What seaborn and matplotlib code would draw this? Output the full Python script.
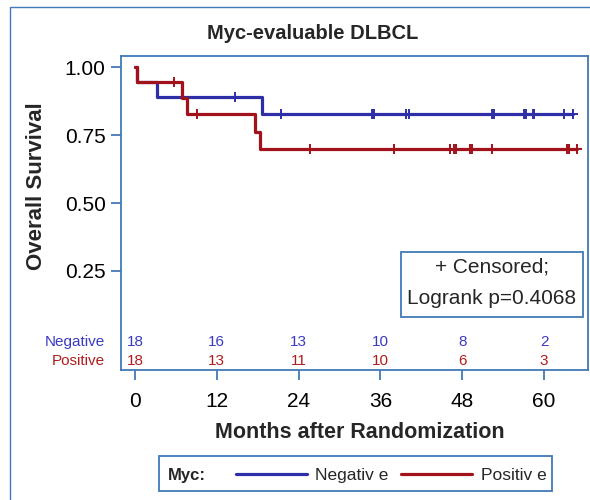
import numpy as np
import pandas as pd
import matplotlib
matplotlib.use("Agg")
import matplotlib.pyplot as plt
import matplotlib.transforms as mtransforms
from matplotlib.patches import Rectangle
from matplotlib.lines import Line2D
import seaborn as sns

# ---------------- data ----------------
groups = ["Negative", "Positive"]
neg_event_times = [0.3, 3.2, 18.6]
neg_censor_times = [14.7, 21.4, 34.8, 35.0, 35.1, 39.8, 40.2, 52.3, 52.7,
                    57.0, 57.3, 58.4, 58.5, 63.0, 64.2]
pos_event_times = [0.3, 6.85, 7.65, 17.65, 18.4]
pos_censor_times = [5.7, 9.05, 25.7, 38.0, 46.2, 46.8, 47.1, 49.1, 49.5,
                    52.3, 63.3, 63.6, 64.8]
risk_times = [0, 12, 24, 36, 48, 60]
neg_at_risk = [18, 16, 13, 10, 8, 2]
pos_at_risk = [18, 13, 11, 10, 6, 3]
x_ticks = [0, 12, 24, 36, 48, 60]
y_ticks = [0.25, 0.50, 0.75, 1.00]
y_tick_labels = ["0.25", "0.50", "0.75", "1.00"]
logrank_p = "0.4068"
title = "Myc-evaluable DLBCL"
legend_labels = ["Negativ e", "Positiv e"]

# ---------------- styling ----------------
sns.set_style("white")
plt.rcParams["font.family"] = ["Liberation Sans", "DejaVu Sans"]

FRAME = "#4279B8"
LINE_COL = {"Negative": "#2E2EA6", "Positive": "#A1121A"}
TEXT_COL = {"Negative": "#3A3AC4", "Positive": "#B01C1C"}


def km(events, censors):
    times = sorted(set(events) | set(censors))
    n = len(events) + len(censors)
    s = 1.0
    rows = [(0.0, 1.0)]
    cens = []
    for t in times:
        d = events.count(t)
        c = censors.count(t)
        if d:
            s *= (n - d) / n
        rows.append((t, s))
        cens += [(t, s)] * c
        n -= d + c
    return rows, cens


curve_rows, cens_rows = [], []
for g, ev, ce in [("Negative", neg_event_times, neg_censor_times),
                  ("Positive", pos_event_times, pos_censor_times)]:
    r, c = km(ev, ce)
    curve_rows += [(g, t, s) for t, s in r]
    cens_rows += [(g, t, s) for t, s in c]
curve = pd.DataFrame(curve_rows, columns=["group", "time", "surv"])
cens = pd.DataFrame(cens_rows, columns=["group", "time", "surv"])

fig = plt.figure(figsize=(5.9, 5.0), dpi=100)
ax = fig.add_axes([121 / 590, 1 - 369.5 / 500, (588 - 121) / 590, (369.5 - 56) / 500])

sns.lineplot(data=curve, x="time", y="surv", hue="group", hue_order=groups,
             palette=LINE_COL, drawstyle="steps-post", estimator=None,
             sort=False, legend=False, linewidth=2.3, ax=ax)
for g in groups:
    sub = cens[cens.group == g]
    ax.plot(sub.time, sub.surv, linestyle="none", marker="+", markersize=7.5,
            markeredgewidth=1.4, color=LINE_COL[g], zorder=3)

ax.set_xlim(-2.05, 66.45)
ax.set_ylim(-0.1127, 1.0416)
ax.set_xticks(x_ticks)
ax.set_xticklabels([str(t) for t in x_ticks])
ax.set_yticks(y_ticks)
ax.set_yticklabels(y_tick_labels)
ax.set_xlabel("")
ax.set_ylabel("")
for sp in ax.spines.values():
    sp.set_color(FRAME)
    sp.set_linewidth(1.3)
ax.tick_params(axis="both", direction="out", length=7, width=1.3,
               color=FRAME, labelcolor="black", labelsize=15,
               bottom=True, left=True)
ax.tick_params(axis="x", pad=9)
ax.tick_params(axis="y", pad=4)

# number-at-risk table inside the axes
trans = mtransforms.blended_transform_factory(ax.transData, ax.transAxes)
for g, vals, yy in [("Negative", neg_at_risk, 0.0877), ("Positive", pos_at_risk, 0.027)]:
    for t, v in zip(risk_times, vals):
        ax.text(t, yy, str(v), transform=trans, ha="center", va="center",
                fontsize=11, color=TEXT_COL[g])
    fig.text(105 / 590, 1 - (369.5 - yy * 313.5) / 500, g, ha="right", va="center",
             fontsize=11, color=TEXT_COL[g])

# censored / logrank box
ax.add_patch(Rectangle((0.5996, 0.1675), 0.9893 - 0.5996, 0.3748 - 0.1675,
                       transform=ax.transAxes, fill=False, edgecolor=FRAME,
                       linewidth=1.3, zorder=4))
ax.text(0.7944, 0.327, "+ Censored;", transform=ax.transAxes, ha="center",
        va="center", fontsize=15)
ax.text(0.7944, 0.228, "Logrank p=" + logrank_p, transform=ax.transAxes,
        ha="center", va="center", fontsize=15)

# titles
fig.text(313 / 590, 1 - 33 / 500, title, ha="center", va="center",
         fontsize=14.5, fontweight="bold")
fig.text(37 / 590, 1 - 186.5 / 500, "Overall Survival", ha="center", va="center",
         rotation=90, fontsize=16, fontweight="bold")
fig.text(360 / 590, 1 - 432 / 500, "Months after Randomization", ha="center",
         va="center", fontsize=15.5, fontweight="bold")

# outer figure border
fig.add_artist(Rectangle((9.5 / 590, -0.1), 1.2, 1 - 7 / 500 + 0.1,
                         transform=fig.transFigure, fill=False,
                         edgecolor=FRAME, linewidth=1.0))

# legend box
fig.add_artist(Rectangle((159 / 590, 1 - 491 / 500), (552 - 159) / 590, 35 / 500,
                         transform=fig.transFigure, fill=False,
                         edgecolor=FRAME, linewidth=1.3))
ly = 1 - 474 / 500
lb = 1 - 480 / 500
fig.text(168 / 590, lb, "Myc:", ha="left", va="baseline", fontsize=12, fontweight="bold")
for g, lab, x0, x1, xt in [("Negative", legend_labels[0], 236, 307, 315),
                           ("Positive", legend_labels[1], 401, 472, 481)]:
    fig.add_artist(Line2D([x0 / 590, x1 / 590], [ly, ly], transform=fig.transFigure,
                          color=LINE_COL[g], linewidth=2.3))
    fig.text(xt / 590, lb, lab, ha="left", va="baseline", fontsize=12.5)

fig.savefig("out.png", dpi=100)
